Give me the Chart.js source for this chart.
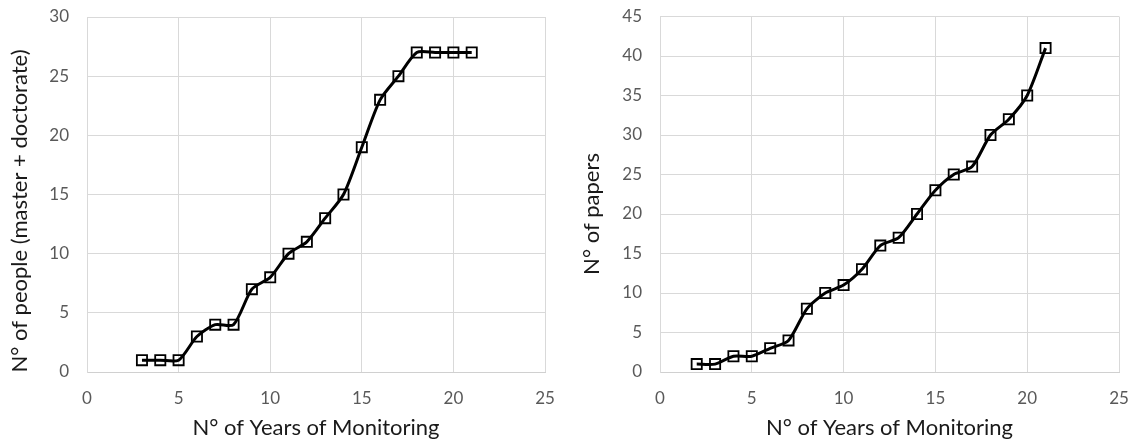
<!DOCTYPE html>
<html>
<head>
<meta charset="utf-8">
<script src="https://cdn.jsdelivr.net/npm/chart.js@4"></script>
<style>
html,body{margin:0;padding:0;background:#fff;}
#wrap{width:1136px;height:442px;display:flex;}
.box{width:568px;height:442px;position:relative;}
</style>
</head>
<body>
<div id="wrap">
<div class="box"><canvas id="c1"></canvas></div>
<div class="box"><canvas id="c2"></canvas></div>
</div>
<script>
// Left chart: people (master + doctorate)
const peopleYears = [3,4,5,6,7,8,9,10,11,12,13,14,15,16,17,18,19,20,21];
const peopleValues = [1,1,1,3,4,4,7,8,10,11,13,15,19,23,25,27,27,27,27];
// Right chart: papers
const paperYears = [2,3,4,5,6,7,8,9,10,11,12,13,14,15,16,17,18,19,20,21];
const paperValues = [1,1,2,2,3,4,8,10,11,13,16,17,20,23,25,26,30,32,35,41];

const xTitle = 'N° of Years of Monitoring';
const yTitleLeft = 'N° of people (master + doctorate)';
const yTitleRight = 'N° of papers';

const FONT = 'Lato, "Open Sans", sans-serif';

// Draws the vertical axis title (Excel centres it on the whole chart, not the plot)
const sideTitlePlugin = {
  id: 'sideTitle',
  afterDraw(chart, args, opts) {
    const ctx = chart.ctx;
    ctx.save();
    ctx.translate(opts.x, opts.y);
    ctx.rotate(-Math.PI / 2);
    ctx.font = '22px ' + FONT;
    ctx.fillStyle = '#1a1a1a';
    ctx.textAlign = 'center';
    ctx.textBaseline = 'middle';
    ctx.fillText(opts.text, 0, 0);
    ctx.restore();
  }
};

function makeChart(id, xs, ys, yMax, yTitle, yAxisWidth, padTop, padRight, titleX, titleY) {
  const pts = xs.map((x, i) => ({x: x, y: ys[i]}));
  return new Chart(document.getElementById(id), {
    type: 'line',
    data: {
      datasets: [{
        data: pts,
        borderColor: '#000',
        borderWidth: 3,
        tension: 0.25,
        fill: false,
        pointStyle: 'rect',
        pointRadius: 7.2,
        pointBorderWidth: 1.8,
        pointBorderColor: '#000',
        pointBackgroundColor: 'rgba(0,0,0,0)'
      }]
    },
    plugins: [sideTitlePlugin],
    options: {
      responsive: false,
      animation: false,
      devicePixelRatio: 1,
      layout: {autoPadding: false, padding: {top: padTop, right: padRight, left: 0, bottom: 0}},
      plugins: {
        legend: {display: false},
        tooltip: {enabled: false},
        sideTitle: {text: yTitle, x: titleX, y: titleY}
      },
      scales: {
        x: {
          type: 'linear', min: 0, max: 25,
          ticks: {stepSize: 5, color: '#595959', font: {family: FONT, size: 17}, padding: 16},
          grid: {color: '#d9d9d9', lineWidth: 1, drawTicks: false},
          border: {color: '#d0d0d0'},
          title: {display: true, text: xTitle, color: '#1a1a1a', font: {family: FONT, size: 22}, padding: {top: 0, bottom: 1}},
          afterFit: function(s){ s.height = 70; s.paddingLeft = 0; s.paddingRight = 0; }
        },
        y: {
          type: 'linear', min: 0, max: yMax,
          ticks: {stepSize: 5, color: '#595959', font: {family: FONT, size: 17}, padding: 18},
          grid: {color: '#d9d9d9', lineWidth: 1, drawTicks: false},
          border: {color: '#d9d9d9'},
          title: {display: false, text: yTitle},
          afterFit: function(s){ s.width = yAxisWidth; s.paddingTop = 0; s.paddingBottom = 0; }
        }
      }
    }
  });
}

const cv1 = document.getElementById('c1'); cv1.width = 568; cv1.height = 442;
const cv2 = document.getElementById('c2'); cv2.width = 568; cv2.height = 442;
makeChart('c1', peopleYears, peopleValues, 30, yTitleLeft, 87, 17, 23, 20, 211);
makeChart('c2', paperYears, paperValues, 45, yTitleRight, 92, 16.5, 17, 24, 214);
</script>
</body>
</html>
